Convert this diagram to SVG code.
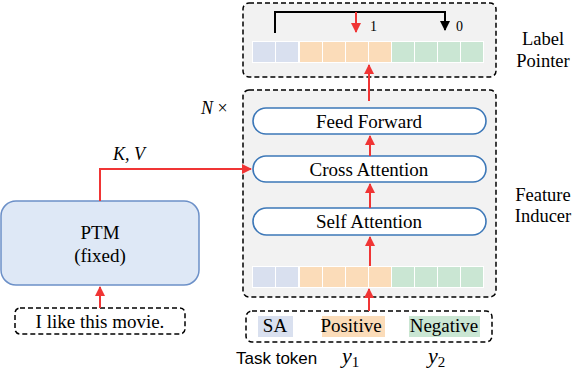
<svg xmlns="http://www.w3.org/2000/svg" width="572" height="370" viewBox="0 0 572 370">
<defs>
<style>
.dash{fill:none;stroke:#000;stroke-width:1.5;stroke-dasharray:5,3}
.cont{fill:#f2f2f2;stroke:#000;stroke-width:1.5;stroke-dasharray:5,3}
.pill{fill:#fff;stroke:#3d78b8;stroke-width:1.6}
.t{font-family:"Liberation Serif","Times New Roman",serif;fill:#000}
.s{font-family:"Liberation Sans",sans-serif;fill:#000}
.red{fill:none;stroke:#f03535;stroke-width:2}
.blk{fill:none;stroke:#000;stroke-width:2}
.cb{fill:#d9e0ef}
.co{fill:#fbdcb9}
.cg{fill:#cae6d3}
</style>
<marker id="ar" viewBox="0 0 10 10" refX="9" refY="5" markerWidth="5" markerHeight="5" orient="auto"><path d="M0,0 L10,5 L0,10 z" fill="#f03535"/></marker>
<marker id="ak" viewBox="0 0 10 10" refX="9" refY="5" markerWidth="5" markerHeight="5" orient="auto"><path d="M0,0 L10,5 L0,10 z" fill="#000"/></marker>
<g id="strip">
<rect x="252" y="0" width="232" height="22" fill="#fff"/>
<rect class="cb" x="253" y="1" width="22" height="20"/>
<rect class="cb" x="276" y="1" width="22" height="20"/>
<rect class="co" x="300" y="1" width="22" height="20"/>
<rect class="co" x="323" y="1" width="22" height="20"/>
<rect class="co" x="346" y="1" width="22" height="20"/>
<rect class="co" x="369" y="1" width="22" height="20"/>
<rect class="cg" x="392" y="1" width="22" height="20"/>
<rect class="cg" x="415" y="1" width="22" height="20"/>
<rect class="cg" x="438" y="1" width="22" height="20"/>
<rect class="cg" x="461" y="1" width="22" height="20"/>
</g>
</defs>

<g id="label-pointer">
<rect class="cont" x="243" y="3" width="253" height="74" rx="6"/>
<use href="#strip" y="41"/>
<text class="t" x="370" y="31" font-size="14">1</text>
<text class="t" x="456" y="31" font-size="14">0</text>
<text class="t" x="543" y="45" font-size="18.5" text-anchor="middle">Label</text>
<text class="t" x="543" y="67" font-size="18.5" text-anchor="middle">Pointer</text>
</g>

<g id="feature-inducer">
<rect class="cont" x="243" y="90" width="253" height="207" rx="6"/>
<use href="#strip" y="266"/>
<text class="t" x="543" y="201" font-size="18.5" text-anchor="middle">Feature</text>
<text class="t" x="543" y="222" font-size="18.5" text-anchor="middle">Inducer</text>
<text class="t" x="201" y="114" font-size="18"><tspan font-style="italic">N</tspan> ×</text>
</g>

<g id="feed-forward">
<rect class="pill" x="253" y="108" width="233" height="26" rx="13"/>
<text class="t" x="369" y="128" font-size="19" text-anchor="middle">Feed Forward</text>
</g>
<g id="cross-attention">
<rect class="pill" x="253" y="156" width="233" height="26" rx="13"/>
<text class="t" x="369" y="176" font-size="19" text-anchor="middle">Cross Attention</text>
</g>
<g id="self-attention">
<rect class="pill" x="253" y="208" width="233" height="27" rx="13.5"/>
<text class="t" x="369" y="228" font-size="19" text-anchor="middle">Self Attention</text>
</g>

<g id="ptm">
<rect x="1" y="201" width="198" height="84" rx="15" fill="#dee8f6" stroke="#6c90c8" stroke-width="1.5"/>
<text class="t" x="100" y="239" font-size="19" text-anchor="middle">PTM</text>
<text class="t" x="100" y="262" font-size="19" text-anchor="middle">(fixed)</text>
</g>

<g id="sentence">
<rect class="dash" x="15" y="308" width="170" height="26" rx="5"/>
<text class="t" x="100" y="328" font-size="19" text-anchor="middle">I like this movie.</text>
</g>

<g id="task-tokens">
<rect class="dash" x="246" y="311" width="246" height="31" rx="6"/>
<rect class="cb" x="258" y="316" width="35" height="21"/>
<rect class="co" x="322" y="316" width="63" height="21"/>
<rect class="cg" x="409" y="316" width="71" height="21"/>
<text class="t" x="275" y="332" font-size="19" text-anchor="middle">SA</text>
<text class="t" x="351" y="332" font-size="19" text-anchor="middle">Positive</text>
<text class="t" x="444" y="332" font-size="19" text-anchor="middle">Negative</text>
<text class="s" x="236" y="364" font-size="17">Task token</text>
<text class="t" x="342" y="363" font-size="22" font-style="italic">y<tspan font-size="15" font-style="normal" dy="4">1</tspan></text>
<text class="t" x="428" y="363" font-size="22" font-style="italic">y<tspan font-size="15" font-style="normal" dy="4">2</tspan></text>
</g>

<g id="connectors">
<path class="blk" d="M275,33 V12 H445 V30" marker-end="url(#ak)"/>
<path class="red" d="M356,12 V32" marker-end="url(#ar)"/>
<path class="red" d="M369,101 V65" marker-end="url(#ar)"/>
<path class="red" d="M370,156 V136" marker-end="url(#ar)"/>
<path class="red" d="M370,208 V184" marker-end="url(#ar)"/>
<path class="red" d="M370,266 V237" marker-end="url(#ar)"/>
<path class="red" d="M369,311 V289" marker-end="url(#ar)"/>
<path class="red" d="M100,201 V169 H251" marker-end="url(#ar)"/>
<path class="red" d="M100,308 V287" marker-end="url(#ar)"/>
<text class="t" x="129" y="160" font-size="18" text-anchor="middle" font-style="italic">K, V</text>
</g>
</svg>
